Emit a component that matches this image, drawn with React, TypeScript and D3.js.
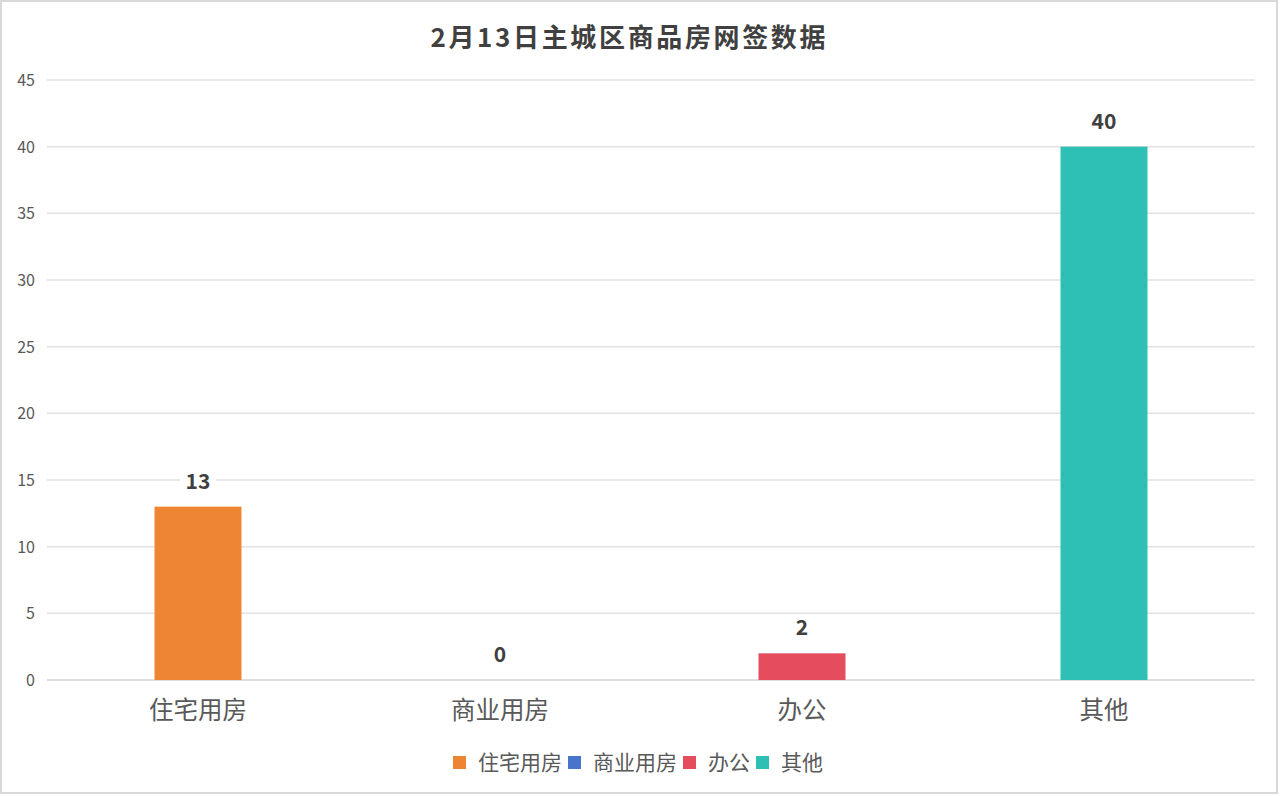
import React from "react";
import * as d3 from "d3";

const title = "2月13日主城区商品房网签数据";
const categories = ["住宅用房", "商业用房", "办公", "其他"];
const values = [13, 0, 2, 40];
const colors = ["#ED8532", "#4874CB", "#E54C5E", "#2EC0B4"];
const yTicks = [0, 5, 10, 15, 20, 25, 30, 35, 40, 45];

const W = 1280;
const H = 796;
const FONT = "'Noto Sans CJK SC', 'Microsoft YaHei', sans-serif";

export default function App() {
  const left = 47;
  const right = 1255;
  const top = 80;
  const bottom = 680;

  const x = d3.scaleBand<string>().domain(categories).range([left, right]).paddingInner(0.712).paddingOuter(0.356);
  const y = d3.scaleLinear().domain([0, 45]).range([bottom, top]);

  // legend layout
  const legFont = 21;
  const sq = 13;
  const gapSqText = 12;
  const gapItem = 6;
  const itemWidths = categories.map((c) => sq + gapSqText + c.length * legFont);
  const legStart = 453;
  let acc = legStart;
  const legX = itemWidths.map((w) => {
    const p = acc;
    acc += w + gapItem;
    return p;
  });

  return (
    <svg width={W} height={H} style={{ position: "absolute", left: 0, top: 0, background: "#fff" }} fontFamily={FONT}>
      <rect x={1} y={1} width={1276} height={792} fill="#fff" stroke="#d9d9d9" strokeWidth={2} />
      <text x={628} y={47} textAnchor="middle" fontSize={26} fontWeight="bold" fill="#404040" textLength={395} lengthAdjust="spacing">
        {title}
      </text>

      {yTicks.map((t) => (
        <g key={t}>
          <line x1={left} x2={right} y1={y(t)} y2={y(t)} stroke={t === 0 ? "#d4d4d4" : "#e2e2e2"} strokeWidth={1.5} />
          <text x={35} y={y(t) + 6} textAnchor="end" fontSize={16} fill="#595959">
            {t}
          </text>
        </g>
      ))}

      {categories.map((c, i) => {
        const bx = x(c)!;
        const bw = x.bandwidth();
        const by = y(values[i]);
        const cx = bx + bw / 2;
        const label = String(values[i]);
        const lw = label.length * 12 + 12;
        return (
          <g key={c}>
            <rect x={bx} y={by} width={bw} height={bottom - by} fill={colors[i]} />
            <rect x={cx - lw / 2} y={by - 38} width={lw} height={26} fill="#fff" />
            <text x={cx} y={by - 18} textAnchor="middle" fontSize={21} fontWeight="bold" fill="#404040">
              {label}
            </text>
            <text x={cx} y={719} textAnchor="middle" fontSize={24.5} fill="#595959">
              {c}
            </text>
          </g>
        );
      })}

      {categories.map((c, i) => (
        <g key={"leg" + c}>
          <rect x={legX[i]} y={756} width={sq} height={sq} fill={colors[i]} />
          <text x={legX[i] + sq + gapSqText} y={770} fontSize={legFont} fill="#595959">
            {c}
          </text>
        </g>
      ))}
    </svg>
  );
}
